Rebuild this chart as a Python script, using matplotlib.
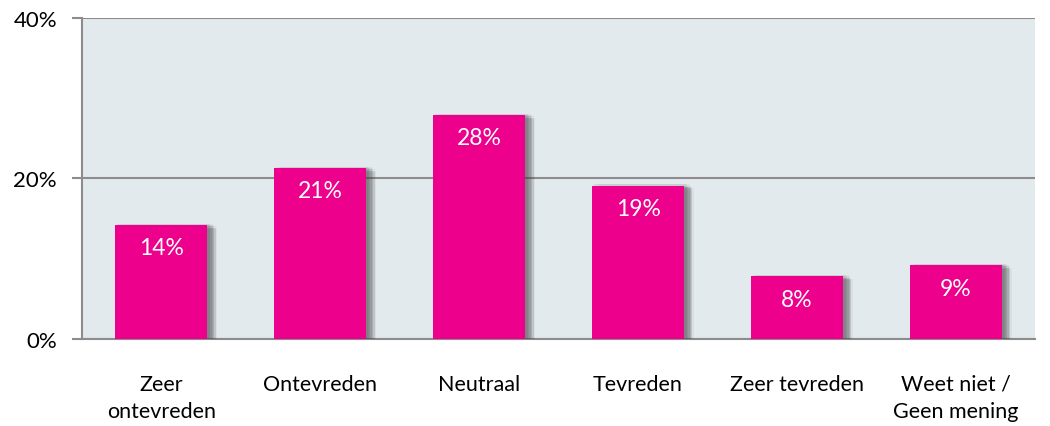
import numpy as np
import matplotlib.pyplot as plt
import matplotlib.patheffects as pe

categories = ["Zeer\nontevreden", "Ontevreden", "Neutraal", "Tevreden",
              "Zeer tevreden", "Weet niet /\nGeen mening"]
values = [14.2, 21.3, 27.9, 19.1, 7.8, 9.2]
labels = ["14%", "21%", "28%", "19%", "8%", "9%"]
yticks = [0, 20, 40]

plt.rcParams['font.family'] = ['Lato', 'DejaVu Sans']

fig = plt.figure(figsize=(10.5, 4.27), dpi=100)
ax = fig.add_axes([0.078, 0.204, 0.908, 0.752])
ax.set_facecolor('#e3eaee')

x = np.arange(len(categories))

# fake blurred shadow: several soft offset copies
offs = [(1, 1), (2, 1), (2, 0), (3, 0), (3, -1), (4, -1), (4, -2), (5, -1),
        (5, -2), (6, -2), (6, -3), (7, -2), (4, 1), (5, 0), (6, -1)]
shadow = [pe.SimplePatchShadow(offset=o, shadow_rgbFace='#444444', alpha=0.06)
          for o in offs]
bars = ax.bar(x, values, width=0.58, color='#ec008c', zorder=3,
              path_effects=shadow + [pe.Normal()])

for xi, v, lab in zip(x, values, labels):
    ax.annotate(lab, (xi, v), xytext=(0, -9), textcoords='offset points',
                ha='center', va='top', color='white', fontsize=16.5, zorder=4)

ax.set_xlim(-0.5, len(categories) - 0.5)
ax.set_ylim(0, 40)
ax.set_yticks(yticks)
ax.set_yticklabels([f"{t}%" for t in yticks], fontsize=16)
ax.set_xticks(x)
ax.set_xticklabels(categories, fontsize=15.5, linespacing=1.45, va='top')
ax.tick_params(axis='x', length=0, pad=25)
ax.tick_params(axis='y', length=7, width=1.5, color='#8c8c8c', pad=11)

ax.grid(axis='y', color='#8c8c8c', linewidth=1.5, zorder=1)
ax.set_axisbelow(True)
for s in ['top', 'right']:
    ax.spines[s].set_visible(False)
for s in ['left', 'bottom']:
    ax.spines[s].set_color('#8c8c8c')
    ax.spines[s].set_linewidth(1.5)

fig.savefig('out.png', dpi=100)
